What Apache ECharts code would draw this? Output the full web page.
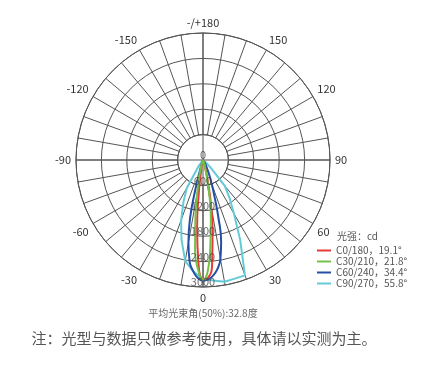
<!DOCTYPE html>
<html><head><meta charset="utf-8">
<script src="https://cdn.jsdelivr.net/npm/echarts@6/dist/echarts.min.js"></script>
<style>html,body{margin:0;padding:0;background:#fff}#c{width:425px;height:370px}</style>
</head><body><div id="c"></div>
<script>
// Radius (intensity, cd) tick labels
const radiusTicks = [0, 600, 1200, 1800, 2400, 3000];
// Angle label step
const angleLabelStep = 30;

// Series names
const seriesNames = ['C0/180，19.1°', 'C30/210，21.8°', 'C60/240，34.4°', 'C90/270，55.8°'];

// C0/180 (red)
const redAngles = [-90, -30, -20, -15, -12.5, -10, -7.5, -5, -2.5, 0, 2.5, 5, 7.5, 10, 12.5, 15, 20, 30, 90];
const redValues = [0, 20, 40, 100, 160, 260, 740, 1600, 2450, 2810, 2780, 2470, 1730, 1100, 560, 250, 80, 20, 0];
// C30/210 (green)
const greenAngles = [-90, -30, -20, -15, -12.5, -10, -7.5, -5, -2.5, 0, 2.5, 5, 7.5, 10, 12.5, 15, 20, 30, 90];
const greenValues = [0, 20, 60, 220, 450, 760, 1380, 2150, 2600, 2830, 2620, 2000, 1420, 900, 400, 180, 60, 20, 0];
// C60/240 (blue)
const blueAngles = [-90, -40, -30, -25, -20, -17.5, -15, -12.5, -10, -7.5, -5, -2.5, 0, 2.5, 5, 7.5, 10, 12.5, 15, 17.5, 20, 22.5, 25, 30, 40, 90];
const blueValues = [0, 10, 20, 40, 60, 150, 600, 1420, 1980, 2420, 2640, 2790, 2850, 2820, 2740, 2600, 2370, 1980, 1400, 900, 600, 400, 250, 100, 30, 0];
// C90/270 (cyan)
const cyanAngles = [-90, -60, -45, -40, -35, -30, -25, -20, -15, -10, -5, 0, 5, 10, 15, 20, 25, 30, 35, 40, 45, 50, 60, 90];
const cyanValues = [0, 10, 30, 60, 200, 770, 1090, 1510, 1960, 2420, 2640, 2820, 2860, 2920, 2900, 2900, 2075, 1460, 1094, 800, 250, 80, 20, 0];

const FONT = '"Noto Sans CJK SC", "Noto Sans", sans-serif';
const GRID = '#555';

function pairs(angles, values) {
  return angles.map((a, i) => [values[i], a < 0 ? a + 360 : a]);
}

const chart = echarts.init(document.getElementById('c'), null, {renderer: 'canvas'});

const angleBase = {type: 'value', min: 0, max: 360, startAngle: 270, clockwise: false};

chart.setOption({
  animation: false,
  backgroundColor: '#fff',
  textStyle: {fontFamily: FONT},
  polar: [
    {center: [203, 160], radius: [0, 127]},
    {center: [203, 160], radius: [25.4, 127]}
  ],
  angleAxis: [
    Object.assign({}, angleBase, {
      polarIndex: 0, interval: 90,
      axisLine: {show: false}, axisTick: {show: false}, axisLabel: {show: false},
      splitLine: {show: true, lineStyle: {color: GRID, width: 1}}
    }),
    Object.assign({}, angleBase, {
      polarIndex: 1, interval: 10,
      axisLine: {show: true, lineStyle: {color: GRID, width: 1}},
      axisTick: {show: false},
      splitLine: {show: true, lineStyle: {color: GRID, width: 1}},
      axisLabel: {
        show: true, margin: 5, color: '#333', fontSize: 11, fontFamily: FONT,
        formatter: function (v) {
          if (v % angleLabelStep !== 0 || v === 360) return '';
          if (v === 180) return '-/+180';
          return String(v > 180 ? v - 360 : v);
        }
      }
    })
  ],
  radiusAxis: [
    {polarIndex: 0, type: 'value', min: 0, max: 3000, interval: 600,
     axisLine: {show: false}, axisTick: {show: false}, axisLabel: {show: false}, splitLine: {show: false}},
    {polarIndex: 1, type: 'value', min: 600, max: 3000, interval: 600,
     axisLine: {show: false}, axisTick: {show: false}, axisLabel: {show: false},
     splitLine: {show: true, lineStyle: {color: GRID, width: 1}}}
  ],
  legend: {
    orient: 'vertical', left: 317, top: 245, itemWidth: 14, itemHeight: 2, itemGap: 0,
    icon: 'rect', padding: 0,
    textStyle: {fontSize: 10, color: '#555', lineHeight: 11, fontFamily: FONT},
    data: seriesNames
  },
  graphic: [
    {type: 'text', x: 337, y: 236, style: {text: '光强：cd', fill: '#555', align: 'left', verticalAlign: 'middle', font: '10px ' + FONT}},
    {type: 'text', x: 203, y: 313, style: {text: '平均光束角(50%):32.8度', fill: '#666', align: 'center', verticalAlign: 'middle', font: '10px ' + FONT}},
    {type: 'text', x: 204, y: 338, style: {text: '注：光型与数据只做参考使用，具体请以实测为主。', fill: '#555', align: 'center', verticalAlign: 'middle', font: '15px ' + FONT}}
  ],
  series: [
    {name: seriesNames[0], type: 'line', coordinateSystem: 'polar', polarIndex: 0, data: pairs(redAngles, redValues),
     smooth: true, showSymbol: false, symbol: 'none', z: 3, lineStyle: {color: '#e53a35', width: 2}, itemStyle: {color: '#e53a35'}},
    {name: seriesNames[1], type: 'line', coordinateSystem: 'polar', polarIndex: 0, data: pairs(greenAngles, greenValues),
     smooth: true, showSymbol: false, symbol: 'none', z: 4, lineStyle: {color: '#72c24a', width: 2}, itemStyle: {color: '#72c24a'}},
    {name: seriesNames[2], type: 'line', coordinateSystem: 'polar', polarIndex: 0, data: pairs(blueAngles, blueValues),
     smooth: true, showSymbol: false, symbol: 'none', z: 2, lineStyle: {color: '#2350a6', width: 2}, itemStyle: {color: '#2350a6'}},
    {name: seriesNames[3], type: 'line', coordinateSystem: 'polar', polarIndex: 0, data: pairs(cyanAngles, cyanValues),
     smooth: false, showSymbol: false, symbol: 'none', z: 1, lineStyle: {color: '#62cbd7', width: 2}, itemStyle: {color: '#62cbd7'}},
    {name: 'labels', type: 'scatter', coordinateSystem: 'polar', polarIndex: 0,
     data: radiusTicks.map(v => [v, 0]), symbolSize: 1, z: 10, silent: true,
     itemStyle: {color: 'rgba(0,0,0,0)'},
     label: {show: true, position: 'inside', offset: [0, -5], color: '#444', fontSize: 11, fontFamily: FONT,
       formatter: p => String(p.value[0])}}
  ]
});
</script>
</body></html>
